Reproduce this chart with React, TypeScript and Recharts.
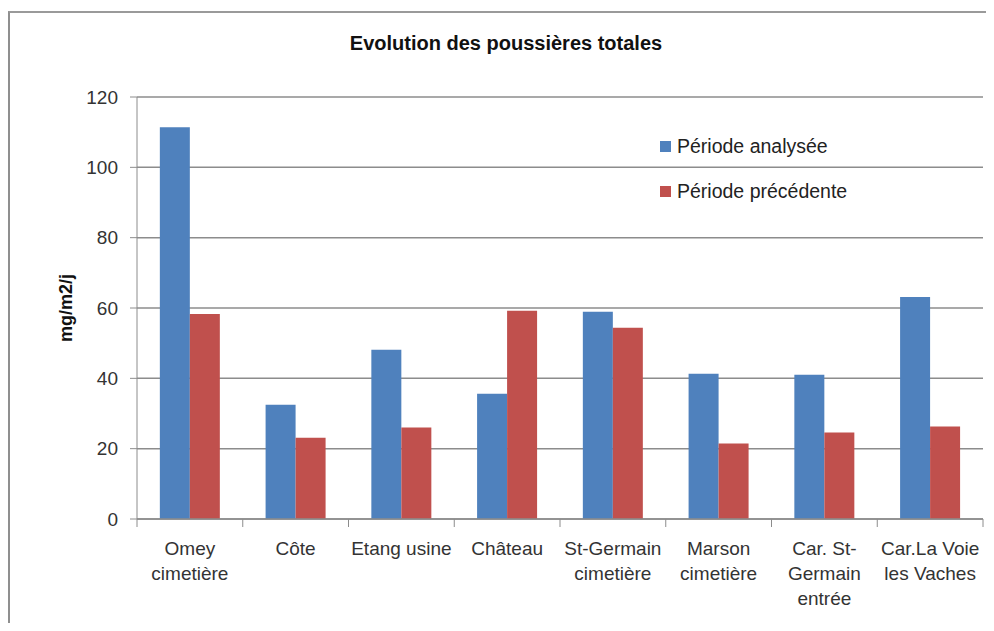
import React from 'react';
import { BarChart, Bar, XAxis, YAxis, CartesianGrid, Label } from 'recharts';

const categories = [
    'Omey\ncimetière',
    'Côte',
    'Etang usine',
    'Château',
    'St-Germain\ncimetière',
    'Marson\ncimetière',
    'Car. St-\nGermain\nentrée',
    'Car.La Voie\nles Vaches',
];
const periodeAnalysee = [111.4, 32.5, 48.1, 35.6, 58.9, 41.3, 41.0, 63.1];
const periodePrecedente = [58.3, 23.1, 26.0, 59.2, 54.4, 21.5, 24.6, 26.3];
const yTicks = [0, 20, 40, 60, 80, 100, 120];

const series = [
    { key: 'analysee', name: 'Période analysée', color: '#4f81bd' },
    { key: 'precedente', name: 'Période précédente', color: '#c0504d' },
];

const data = categories.map((name, i) => ({
    name,
    analysee: periodeAnalysee[i],
    precedente: periodePrecedente[i],
}));

const FONT = '"Liberation Sans", Arial, sans-serif';
const AXIS_GRAY = '#8c8c8c';

const CategoryTick = (props: any) => {
    const { x, y, payload, index, visibleTicksCount } = props;
    const half = payload.offset || 0;
    const lines = String(payload.value).split('\n');
    const isLast = index === visibleTicksCount - 1;
    return (
        <g>
            <line x1={x - half} y1={y - 8} x2={x - half} y2={y} stroke={AXIS_GRAY} />
            {isLast && <line x1={x + half} y1={y - 8} x2={x + half} y2={y} stroke={AXIS_GRAY} />}
            <text x={x} y={y + 28} textAnchor="middle" fill="#333" fontSize={19} fontFamily={FONT}>
                {lines.map((l, i) => (
                    <tspan key={i} x={x} dy={i === 0 ? 0 : 25}>
                        {l}
                    </tspan>
                ))}
            </text>
        </g>
    );
};

export default function App() {
    return (
        <div style={{ position: 'relative', width: 986, height: 615, overflow: 'hidden', background: '#fff' }}>
            <div
                style={{
                    position: 'absolute',
                    left: 0,
                    top: 3,
                    width: 2000,
                    height: 2000,
                    borderLeft: '2px solid #8f8f8f',
                    borderTop: '2px solid #9a9a9a',
                }}
            />
            <div
                style={{
                    position: 'absolute',
                    left: 0,
                    width: 996,
                    top: 24,
                    textAlign: 'center',
                    fontFamily: FONT,
                    fontWeight: 'bold',
                    fontSize: 20,
                    color: '#111',
                }}
            >
                Evolution des poussières totales
            </div>
            <div style={{ position: 'absolute', left: 0, top: 0 }}>
                <BarChart
                    width={986}
                    height={615}
                    data={data}
                    margin={{ top: 89, right: 11, bottom: 0, left: 0 }}
                    barCategoryGap="21.6%"
                    barGap={0}
                >
                    <CartesianGrid vertical={false} stroke={AXIS_GRAY} strokeWidth={1.5} />
                    <XAxis
                        dataKey="name"
                        interval={0}
                        tickLine={false}
                        axisLine={{ stroke: AXIS_GRAY, strokeWidth: 1.5 }}
                        tick={<CategoryTick />}
                        height={104}
                    />
                    <YAxis
                        width={129}
                        domain={[0, 120]}
                        ticks={yTicks}
                        interval={0}
                        tickSize={7}
                        tickMargin={12}
                        tickLine={{ stroke: AXIS_GRAY }}
                        axisLine={{ stroke: AXIS_GRAY }}
                        tick={{ fill: '#333', fontSize: 19, fontFamily: FONT }}
                    >
                        <Label
                            value="mg/m2/j"
                            angle={-90}
                            position="insideLeft"
                            offset={58}
                            style={{ fontFamily: FONT, fontWeight: 'bold', fontSize: 18, fill: '#111', textAnchor: 'middle' }}
                        />
                    </YAxis>
                    {series.map((s) => (
                        <Bar key={s.key} dataKey={s.key} name={s.name} fill={s.color} isAnimationActive={false} />
                    ))}
                </BarChart>
            </div>
            <div style={{ position: 'absolute', left: 652, top: 116, fontFamily: FONT, fontSize: 19.5, color: '#222' }}>
                {series.map((s) => (
                    <div key={s.key} style={{ display: 'flex', alignItems: 'center', height: 45 }}>
                        <span style={{ width: 11, height: 11, background: s.color, marginRight: 6 }} />
                        <span>{s.name}</span>
                    </div>
                ))}
            </div>
        </div>
    );
}
